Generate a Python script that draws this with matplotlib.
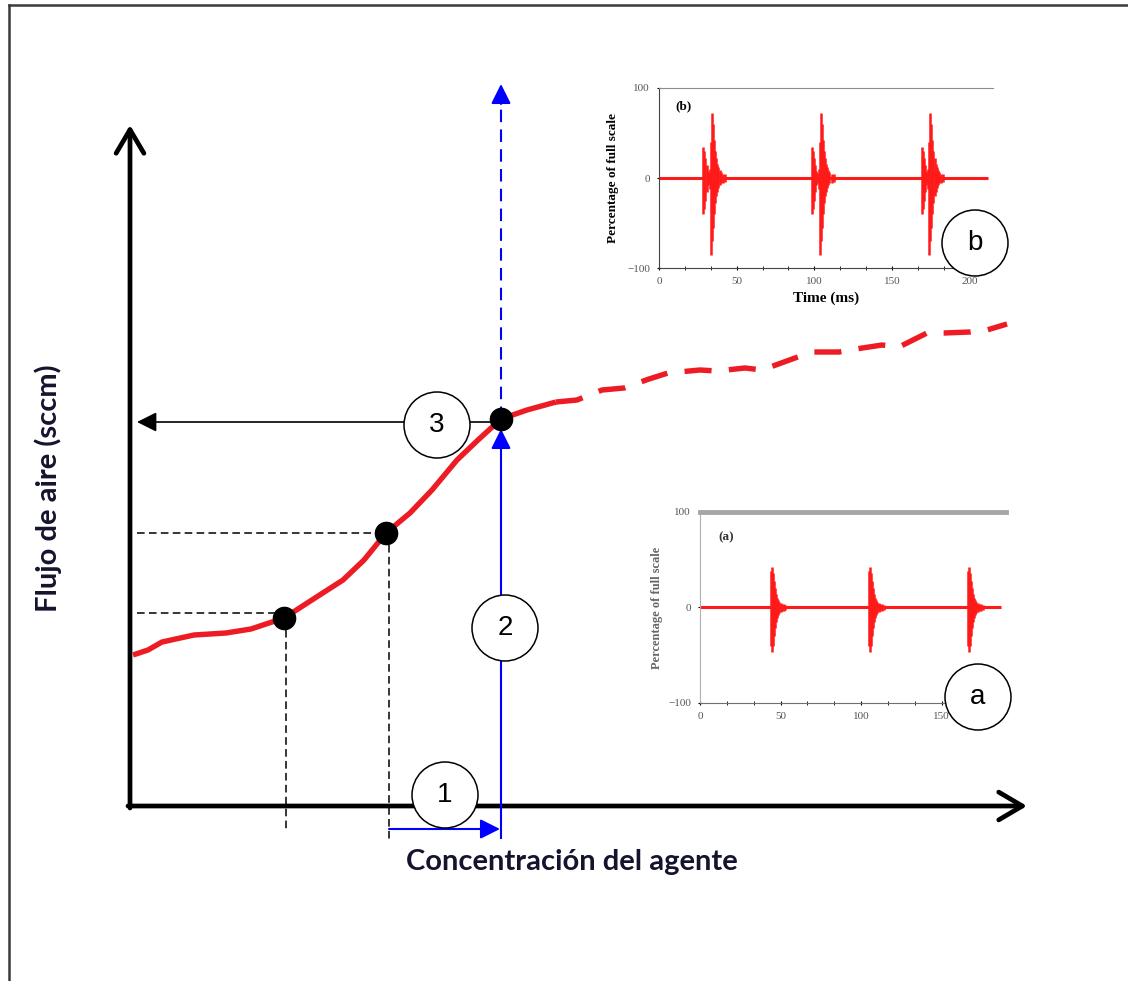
import matplotlib
matplotlib.use('Agg')
import matplotlib.pyplot as plt
from matplotlib.patches import Circle
from matplotlib.ticker import MultipleLocator

# schematic units: 1 unit = 1 px, origin at the corner of the main axes
curve_solid_x = [3, 18, 32, 64, 96, 121, 154, 185, 213, 234, 256, 280, 302,
                 327, 348, 371, 397, 426]
curve_solid_y = [151, 156, 164, 171, 173, 177, 188, 208, 226, 246, 273, 293,
                 316, 346, 366, 387, 396, 404]
curve_dash_x = [447, 472, 494, 519, 538, 570, 587, 615, 632, 665, 683, 709,
                726, 752, 769, 797, 814, 840, 857, 877]
curve_dash_y = [406, 416, 418, 427, 433, 436, 435, 438, 436, 448, 454, 454,
                457, 461, 459, 473, 473, 474, 476, 482]
dot_idx = [6, 10, 15]

# acoustic signal insets (time in ms, percentage of full scale)
b_starts = [28.5, 98.5, 169.0]
b_offsets = [0, 0.7, 1.4, 2.1, 2.8, 3.5, 4.2, 4.9, 5.6, 6.3, 7.0, 7.7, 8.4,
             9.1, 9.8, 10.5, 11.2, 12.6, 14.0]
b_hi = [35, 30, 22, 14, 8, 6, 10, 40, 72, 60, 42, 30, 22, 16, 12, 9, 7, 5, 4]
b_lo = [-40, -34, -25, -15, -8, -6, -12, -85, -70, -55, -40, -28, -20, -15,
        -11, -8, -6, -5, -4]
b_ticks_x = [0, 50, 100, 150, 200]

a_starts = [44.0, 105.0, 166.5]
a_offsets = [0, 0.6, 1.2, 1.8, 2.4, 3.0, 3.6, 4.2, 5.0, 6.0, 7.0, 8.0, 9.0]
a_hi = [38, 42, 36, 28, 20, 14, 10, 8, 6, 5, 4, 4, 3]
a_lo = [-40, -47, -40, -30, -22, -15, -11, -8, -6, -5, -4, -4, -3]
a_ticks_x = [0, 50, 100, 150]
pct_ticks = [-100, 0, 100]

RED = '#ed1c24'
SIG = '#ff1a1a'
BLUE = '#0000ff'
NAVY = '#14142e'

fig = plt.figure(figsize=(11.28, 9.81), dpi=100)
fig.patch.set_facecolor('white')

ax = fig.add_axes([0, 0, 1, 1])
ax.set_xlim(-130, 998)
ax.set_ylim(-175, 806)
ax.axis('off')
ax.set_zorder(3)
ax.patch.set_visible(False)

# outer frame (top and left only)
ax.plot([-121, 998], [801, 801], color='#3a3a3a', lw=1.8, clip_on=False)
ax.plot([-121, -121], [801, -175], color='#3a3a3a', lw=1.8, clip_on=False)

# main axes with open arrow heads
axis_kw = dict(arrowstyle='->, head_length=0.85, head_width=0.5', lw=3.4,
               color='black', shrinkA=0, shrinkB=0)
ax.annotate('', xy=(0, 681), xytext=(0, -2), arrowprops=dict(mutation_scale=20, **axis_kw))
ax.annotate('', xy=(897, 0), xytext=(-2, 0), arrowprops=dict(mutation_scale=20, **axis_kw))

ax.text(-82, 318, 'Flujo de aire (sccm)', rotation=90, ha='center', va='center',
        fontsize=21, fontweight='bold', family='Lato', color=NAVY)
ax.text(442, -56, 'Concentración del agente', ha='center', va='center',
        fontsize=21, fontweight='bold', family='Lato', color=NAVY)

# calibration curve
ax.plot(curve_solid_x, curve_solid_y, color=RED, lw=3.9, solid_capstyle='butt', zorder=4)
ax.plot([curve_solid_x[-1]] + curve_dash_x, [curve_solid_y[-1]] + curve_dash_y,
        color=RED, lw=3.9, dashes=(5.0, 3.2), dash_capstyle='butt', zorder=4)

dx = [curve_solid_x[i] for i in dot_idx]
dy = [curve_solid_y[i] for i in dot_idx]

# dashed guides for the two lower points
guide = dict(color='black', lw=1.1, dashes=(5, 2.8), zorder=3)
ax.plot([7, dx[0]], [dy[0] + 5, dy[0] + 5], **guide)
ax.plot([dx[0] + 2, dx[0] + 2], [dy[0], -26], **guide)
ax.plot([7, dx[1]], [dy[1], dy[1]], **guide)
ax.plot([dx[1] + 3, dx[1] + 3], [dy[1], -34], **guide)

# step 1: concentration increment
head = '-|>, head_length=0.6, head_width=0.3'
ax.annotate('', xy=(dx[2] - 1, -23), xytext=(dx[1] + 3, -23),
            arrowprops=dict(arrowstyle=head, mutation_scale=20, lw=1.5,
                            color=BLUE, shrinkA=0, shrinkB=0), zorder=5)
# step 2: up to the curve, and further (dashed)
ax.plot([dx[2], dx[2]], [-32, dy[2] - 30], color=BLUE, lw=1.5, zorder=3)
ax.annotate('', xy=(dx[2], dy[2] - 10), xytext=(dx[2], dy[2] - 30),
            arrowprops=dict(arrowstyle=head, mutation_scale=20, lw=1.5,
                            color=BLUE, shrinkA=0, shrinkB=0), zorder=3)
ax.plot([dx[2], dx[2]], [dy[2], 706], color=BLUE, lw=1.5, dashes=(6, 3.5), zorder=3)
ax.annotate('', xy=(dx[2], 722), xytext=(dx[2], 702),
            arrowprops=dict(arrowstyle=head, mutation_scale=20, lw=1.5,
                            color=BLUE, shrinkA=0, shrinkB=0), zorder=3)
# step 3: read the air flow
ax.annotate('', xy=(7, dy[2] - 3), xytext=(dx[2], dy[2] - 3),
            arrowprops=dict(arrowstyle=head, mutation_scale=20, lw=1.2,
                            color='black', shrinkA=0, shrinkB=0), zorder=3)

ax.plot(dx, dy, 'o', color='black', ms=16, zorder=6)

# numbered / lettered circles
for cx, cy, txt in [(307, 381, '3'), (375, 178, '2'), (315, 11, '1'),
                    (848, 109, 'a'), (845, 563, 'b')]:
    ax.add_patch(Circle((cx, cy), 33, facecolor='white', edgecolor='black',
                        lw=1.1, zorder=7))
    ax.text(cx, cy, txt, ha='center', va='center', fontsize=20,
            family='Liberation Sans', zorder=8)


def style_inset(axi, xmax, ticks_x):
    axi.set_xlim(0, xmax)
    axi.set_ylim(-100, 100)
    axi.set_xticks(ticks_x)
    axi.set_yticks(pct_ticks)
    axi.xaxis.set_minor_locator(MultipleLocator(50 / 3))
    axi.tick_params(axis='both', which='major', labelsize=8, labelcolor='#555555',
                    length=3, direction='inout', pad=5)
    axi.tick_params(axis='x', which='minor', length=3, direction='inout')
    for lab in axi.get_xticklabels() + axi.get_yticklabels():
        lab.set_family('Liberation Serif')
    axi.spines['right'].set_visible(False)
    axi.patch.set_visible(False)


def draw_signal(axi, xmax, starts, offsets, hi, lo):
    axi.plot([0, xmax - 3], [0, 0], color=SIG, lw=2.2, solid_capstyle='butt')
    for s in starts:
        axi.vlines([s + o for o in offsets], lo, hi, color=SIG, lw=1.8)


# inset (b)
axb = fig.add_axes([0.5842, 0.7268, 0.2961, 0.1835])
axb.set_zorder(1)
style_inset(axb, 215, b_ticks_x)
draw_signal(axb, 215, b_starts, b_offsets, b_hi, b_lo)
axb.spines['top'].set_color('#8c8c8c')
axb.spines['left'].set_color('#444444')
axb.spines['bottom'].set_color('#444444')
axb.set_xlabel('Time (ms)', fontsize=11, fontweight='bold',
               family='Liberation Serif', labelpad=4)
axb.set_ylabel('Percentage of full scale', fontsize=9.5, fontweight='bold',
               family='Liberation Serif', labelpad=6)
axb.text(0.05, 0.93, '(b)', transform=axb.transAxes, fontsize=9.5,
         fontweight='bold', family='Liberation Serif', va='top')

# inset (a)
axa = fig.add_axes([0.6206, 0.2834, 0.2713, 0.1947])
axa.set_zorder(1)
style_inset(axa, 190, a_ticks_x)
draw_signal(axa, 190, a_starts, a_offsets, a_hi, a_lo)
axa.spines['top'].set_color('#a6a6a6')
axa.spines['top'].set_linewidth(3.5)
axa.spines['left'].set_color('#b0b0b0')
axa.spines['bottom'].set_color('#707070')
axa.set_ylabel('Percentage of full scale', fontsize=9, fontweight='bold',
               family='Liberation Serif', color='#666666', labelpad=4)
axa.text(0.06, 0.90, '(a)', transform=axa.transAxes, fontsize=9.5,
         fontweight='bold', family='Liberation Serif', color='#333333', va='top')

fig.savefig('out.png', dpi=100, facecolor='white')
